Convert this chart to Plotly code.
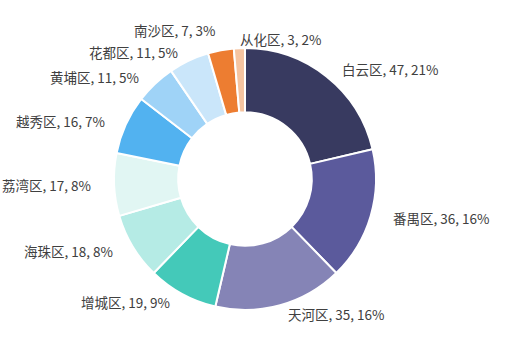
import numpy as np
import plotly.graph_objects as go

districts = ["白云区", "番禺区", "天河区", "增城区", "海珠区", "荔湾区", "越秀区", "黄埔区", "花都区", "南沙区", "从化区"]
counts = [47, 36, 35, 19, 18, 17, 16, 11, 11, 7, 3]
pct_labels = ["21%", "16%", "16%", "9%", "8%", "8%", "7%", "5%", "5%", "3%", "2%"]
colors = ["#383a60", "#5b5a9c", "#8584b6", "#44c9b9", "#b5ebe5", "#e1f6f3",
          "#52b2f0", "#9fd3f7", "#cae6fa", "#ed7d31", "#f5c4a0"]

W, H = 505, 341
cx, cy, r = 245, 179, 131
label_rx, label_ry = 152, 140
min_gap = 22

fig = go.Figure(go.Pie(
    labels=districts,
    values=counts,
    textinfo="none",
    sort=False,
    direction="clockwise",
    rotation=0,
    hole=0.51,
    marker=dict(colors=colors, line=dict(color="white", width=2)),
    domain=dict(x=[(cx - r) / W, (cx + r) / W], y=[(H - cy - r) / H, (H - cy + r) / H]),
    showlegend=False,
    hoverinfo="label+value+percent",
))

# label anchors derived from slice mid-angles (clockwise from 12 o'clock)
vals = np.array(counts, dtype=float)
theta = (np.cumsum(vals) - vals / 2) / vals.sum() * 2 * np.pi
sx, cyv = np.sin(theta), np.cos(theta)
lx = cx + label_rx * sx
ly = cy - label_ry * cyv
left_side = sx <= -0.06

# simple collision avoidance: push labels upward on each side
for side in (left_side, ~left_side):
    idx = [i for i in range(len(counts)) if side[i]]
    idx.sort(key=lambda i: ly[i], reverse=True)
    for a, b in zip(idx, idx[1:]):
        if ly[a] - ly[b] < min_gap:
            ly[b] = ly[a] - min_gap

for i, (name, v, p) in enumerate(zip(districts, counts, pct_labels)):
    fig.add_annotation(
        x=lx[i] / W, y=1 - ly[i] / H, xref="paper", yref="paper",
        text=f"{name}, {v}, {p}", showarrow=False,
        xanchor="right" if left_side[i] else "left", yanchor="middle",
        font=dict(family="Noto Sans CJK SC, sans-serif", size=13.5, color="#404040"),
    )

fig.update_layout(
    width=W, height=H,
    margin=dict(l=0, r=0, t=0, b=0),
    paper_bgcolor="white",
    plot_bgcolor="white",
)

fig.write_html("out.html")
